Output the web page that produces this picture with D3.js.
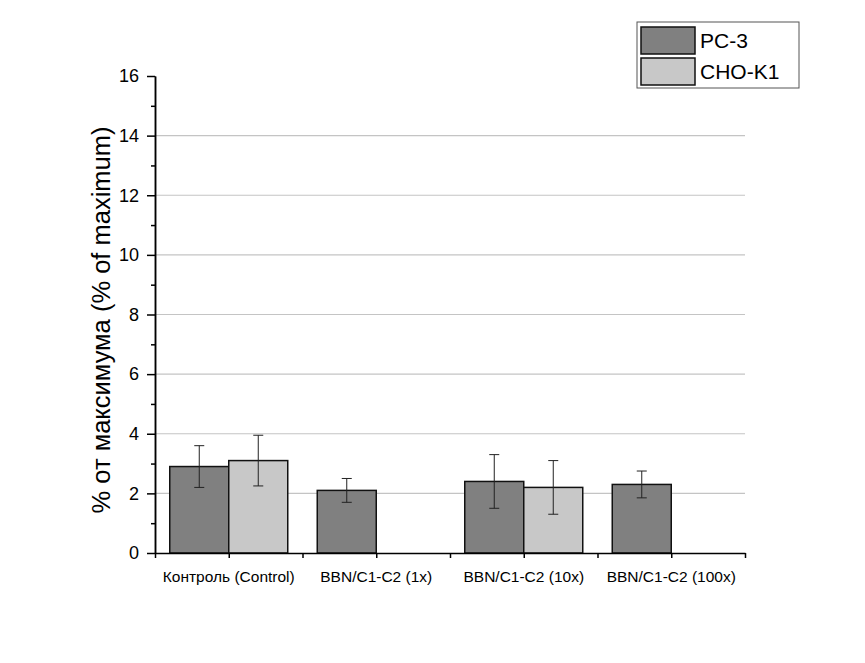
<!DOCTYPE html>
<html>
<head>
  <meta charset="utf-8">
  <script src="https://d3js.org/d3.v7.min.js"></script>
  <style>
    body { margin: 0; background: #fff; }
    text { font-family: "Liberation Sans", Arial, sans-serif; fill: #000; }
    .axis path, .axis line { stroke: #000; stroke-width: 1.5px; }
    .grid line { stroke: #c4c4c4; stroke-width: 1.2px; }
  </style>
</head>
<body>
  <script>

    // Data
    var categories = ["Контроль (Control)", "BBN/C1-C2 (1x)", "BBN/C1-C2 (10x)", "BBN/C1-C2 (100x)"];
    var seriesNames = ["PC-3", "CHO-K1"];
    var seriesColors = ["#808080", "#c8c8c8"];
    var pc3Values = [2.9, 2.1, 2.4, 2.3];
    var pc3Errors = [0.7, 0.4, 0.9, 0.45];
    var choValues = [3.1, null, 2.2, null];
    var choErrors = [0.85, null, 0.9, null];
    var yTicks = [0, 2, 4, 6, 8, 10, 12, 14, 16];
    var yMinorTicks = [1, 3, 5, 7, 9, 11, 13, 15];

    var width = 865, height = 663;
    var plotLeft = 155, plotRight = 745, plotTop = 76, plotBottom = 553;

    var svg = d3.select("body").append("svg")
        .attr("width", width)
        .attr("height", height);

    var x = d3.scaleBand()
        .domain(categories)
        .range([plotLeft, plotRight])
        .padding(0);

    var xPos = d3.scaleLinear()
        .domain([0, categories.length])
        .range([plotLeft, plotRight]);

    var x1 = d3.scaleBand()
        .domain(seriesNames)
        .range([0, x.bandwidth()])
        .paddingInner(0)
        .paddingOuter(0.25);

    var y = d3.scaleLinear()
        .domain([0, 16])
        .range([plotBottom, plotTop]);

    // grid lines
    svg.append("g")
        .attr("class", "grid")
      .selectAll("line")
        .data(yTicks.filter(function(d) { return d > 0 && d < 16; }))
      .enter().append("line")
        .attr("x1", plotLeft)
        .attr("x2", plotRight)
        .attr("y1", function(d) { return y(d); })
        .attr("y2", function(d) { return y(d); });

    // build rows
    var rows = [];
    categories.forEach(function(c, i) {
      rows.push({cat: c, s: "PC-3", v: pc3Values[i], e: pc3Errors[i]});
      if (choValues[i] != null) rows.push({cat: c, s: "CHO-K1", v: choValues[i], e: choErrors[i]});
    });

    var bars = svg.selectAll(".bar")
        .data(rows)
      .enter().append("g")
        .attr("class", "bar");

    bars.append("rect")
        .attr("x", function(d) { return x(d.cat) + x1(d.s); })
        .attr("y", function(d) { return y(d.v); })
        .attr("width", x1.bandwidth())
        .attr("height", function(d) { return y(0) - y(d.v); })
        .attr("fill", function(d) { return seriesColors[seriesNames.indexOf(d.s)]; })
        .attr("stroke", "#111")
        .attr("stroke-width", 1.5);

    // error bars
    var cx = function(d) { return x(d.cat) + x1(d.s) + x1.bandwidth() / 2; };
    bars.append("line")
        .attr("x1", cx).attr("x2", cx)
        .attr("y1", function(d) { return y(d.v + d.e); })
        .attr("y2", function(d) { return y(d.v - d.e); })
        .attr("stroke", "#222").attr("stroke-width", 1);
    [1, -1].forEach(function(sign) {
      bars.append("line")
          .attr("x1", function(d) { return cx(d) - 5; })
          .attr("x2", function(d) { return cx(d) + 5; })
          .attr("y1", function(d) { return y(d.v + sign * d.e); })
          .attr("y2", function(d) { return y(d.v + sign * d.e); })
          .attr("stroke", "#222").attr("stroke-width", 1);
    });

    // x axis: ticks at centers and boundaries
    var xTickVals = d3.range(0, categories.length + 0.01, 0.5);
    svg.append("g")
        .attr("class", "axis")
        .attr("transform", "translate(0," + plotBottom + ")")
        .call(d3.axisBottom(xPos).tickValues(xTickVals).tickSize(5).tickSizeOuter(0).tickFormat(""));

    svg.append("g")
        .attr("transform", "translate(0," + plotBottom + ")")
        .call(d3.axisBottom(x).tickSize(0).tickPadding(18))
        .call(function(g) { g.select(".domain").remove(); })
        .selectAll("text")
        .style("font-size", "15.5px");

    // y axis
    svg.append("g")
        .attr("class", "axis")
        .attr("transform", "translate(" + plotLeft + ",0)")
        .call(d3.axisLeft(y).tickValues(yMinorTicks).tickSize(4).tickSizeOuter(0).tickFormat(""));

    svg.append("g")
        .attr("class", "axis")
        .attr("transform", "translate(" + plotLeft + ",0)")
        .call(d3.axisLeft(y).tickValues(yTicks).tickSize(8).tickSizeOuter(0).tickPadding(8))
        .selectAll("text")
        .style("font-size", "18px");

    // y axis title
    svg.append("text")
        .attr("transform", "translate(110,320) rotate(-90)")
        .attr("text-anchor", "middle")
        .style("font-size", "25.5px")
        .text("% от максимума (% of maximum)");

    // legend
    var legend = svg.append("g").attr("transform", "translate(637,22)");
    legend.append("rect")
        .attr("width", 162).attr("height", 66)
        .attr("fill", "#fff").attr("stroke", "#555").attr("stroke-width", 1);
    seriesNames.forEach(function(s, i) {
      legend.append("rect")
          .attr("x", 4).attr("y", 5 + i * 31)
          .attr("width", 54).attr("height", 27)
          .attr("fill", seriesColors[i])
          .attr("stroke", "#111").attr("stroke-width", 1.5);
      legend.append("text")
          .attr("x", 63).attr("y", 18.5 + i * 31)
          .attr("dy", "0.35em")
          .style("font-size", "21px")
          .text(s);
    });

  </script>
</body>
</html>
